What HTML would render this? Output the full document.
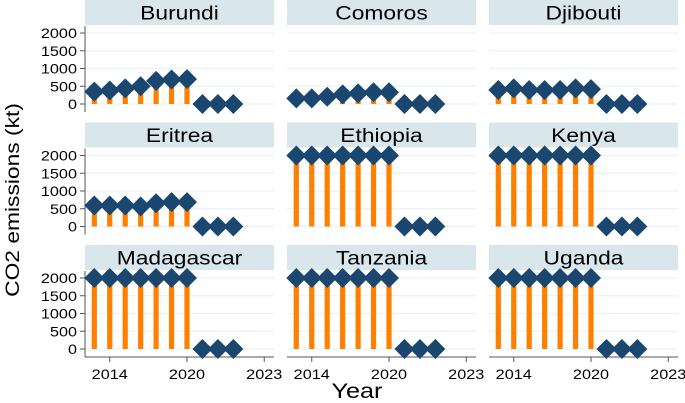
<!DOCTYPE html>
<html><head><meta charset="utf-8"><style>
html,body{margin:0;padding:0;background:#fff;}
svg{display:block;font-family:"Liberation Sans",Arial,sans-serif;}
</style></head><body>
<svg id="chart" width="685" height="403" viewBox="0 0 685 403">
<text class="st" x="19" y="200" font-size="19" text-anchor="middle" transform="rotate(-90 19 200)" fill="#000">CO2 emissions (kt)</text>
<text class="st" x="357" y="398" font-size="21" text-anchor="middle" fill="#000">Year</text>
</svg>
<script>
const countries = ["Burundi","Comoros","Djibouti","Eritrea","Ethiopia","Kenya","Madagascar","Tanzania","Uganda"];
const burundi = [350,380,440,500,650,690,700,0,0,0];
const comoros = [160,160,205,270,300,330,330,0,0,0];
const djibouti = [395,440,395,395,395,440,420,0,0,0];
const eritrea = [590,590,590,565,655,685,685,0,0,0];
const ethiopia = [2000,2000,2000,2000,2000,2000,2000,0,0,0];
const kenya = [2000,2000,2000,2000,2000,2000,2000,0,0,0];
const madagascar = [2000,2000,2000,2000,2000,2000,2000,0,0,0];
const tanzania = [2000,2000,2000,2000,2000,2000,2000,0,0,0];
const uganda = [2000,2000,2000,2000,2000,2000,2000,0,0,0];
const seriesList = [burundi,comoros,djibouti,eritrea,ethiopia,kenya,madagascar,tanzania,uganda];
const yTicks = [0,500,1000,1500,2000];
const xTickIdx = [1,6,11];
const xTickLabels = ["2014","2020","2023"];

const NS="http://www.w3.org/2000/svg";
const svg=document.getElementById('chart');
function mk(tag,attrs,parent){const e=document.createElementNS(NS,tag);for(const k in attrs)e.setAttribute(k,attrs[k]);(parent||svg).appendChild(e);return e;}

for(let p=0;p<9;p++){
  const col=p%3,row=Math.floor(p/3);
  const left=85+col*202, right=left+189;
  const zeroY=104+row*122.5;
  const yS=v=>zeroY-v/2000*71;
  const xS=i=>94.3+col*202+i*15.45;
  const g=mk('g',{});
  
  
  const stripY=row*122.5;
  const strip=mk('rect',{x:left,y:stripY,width:right-left,height:25,fill:'#d9e6eb'},g);
  
  
  const st=mk('text',{x:(left+right)/2,y:stripY+19.5,'font-size':19,'text-anchor':'middle',fill:'#000','class':'st'},g);
  st.textContent=countries[p];
  
  
  yTicks.forEach(t=>{
    const gl=mk('line',{x1:left,x2:right,y1:yS(t),y2:yS(t),stroke:'#eaf2f3','stroke-width':1.2},g);
    
    
    if(col===0){
      mk('line',{x1:80,x2:85,y1:yS(t),y2:yS(t),stroke:'#555','stroke-width':1},g);
      const tl=mk('text',{x:77,y:yS(t)+5,'font-size':13.5,'text-anchor':'end',fill:'#000','class':'st'},g);
      tl.textContent=String(t);
      
      
    }
  });
  if(col===0){
    const ax=mk('line',{x1:85,x2:85,y1:stripY+26,y2:zeroY+8,stroke:'#555','stroke-width':1},g);
    
    
  }
  if(row===2){
    const xa=mk('line',{x1:left,x2:right,y1:zeroY+8,y2:zeroY+8,stroke:'#555','stroke-width':1},g);
    
    
    xTickIdx.forEach((ti,k)=>{
      mk('line',{x1:xS(ti),x2:xS(ti),y1:zeroY+8,y2:zeroY+13,stroke:'#555'},g);
      const xl=mk('text',{x:xS(ti),y:zeroY+30,'font-size':13.5,'text-anchor':'middle',fill:'#000','class':'st'},g);
      xl.textContent=xTickLabels[k];
      
      
    });
  }
  const data=seriesList[p];
  data.forEach((v,i)=>{
    if(v>0){
      const b=mk('rect',{x:xS(i)-2.6,y:yS(v),width:5.2,height:zeroY-yS(v),fill:'#ff8000'},g);
      
      
    }
  });
  data.forEach((v,i)=>{
    const cx=xS(i),cy=yS(v),r=10;
    const d=mk('polygon',{points:`${cx},${cy-r} ${cx+r},${cy} ${cx},${cy+r} ${cx-r},${cy}`,fill:'#1a476f'},g);
    
    
  });
}
// horizontal stretch to match reference glyph widths
document.querySelectorAll('text.st').forEach(t=>{
  const w=t.getComputedTextLength();
  t.setAttribute('textLength',(w*1.2).toFixed(1));
  t.setAttribute('lengthAdjust','spacingAndGlyphs');
});
</script>
</body></html>
